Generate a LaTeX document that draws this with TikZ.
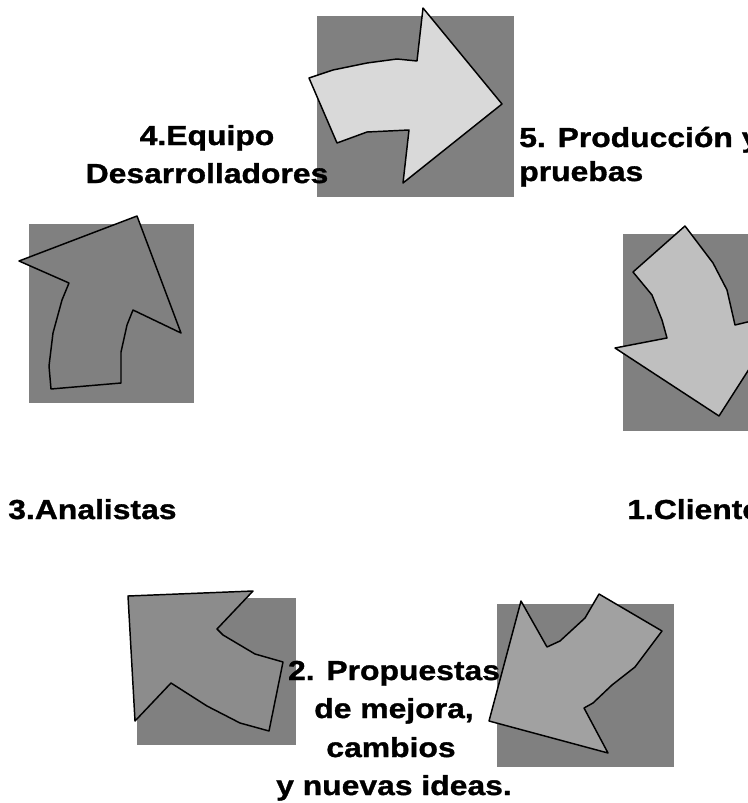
\documentclass[tikz,border=0pt]{standalone}
\usepackage{fontspec}
\setmainfont{Liberation Sans}
\newfontfamily\lblfont{Liberation Sans}[FakeStretch=1.16,FakeBold=1.2]
\usepackage{tikz}
\definecolor{tilegray}{gray}{0.50}
\definecolor{arrowA}{gray}{0.85}
\definecolor{arrowB}{gray}{0.75}
\definecolor{arrowC}{gray}{0.63}
\definecolor{arrowD}{gray}{0.55}
\definecolor{arrowE}{gray}{0.50}
\tikzset{
  tile/.style={fill=tilegray},
  blockarrow/.style={draw=black, line width=1.1pt, line join=round},
  lbl/.style={font=\lblfont\fontsize{20.6}{25}\selectfont\bfseries, inner sep=0pt, anchor=base},
  lblw/.style={lbl, anchor=base west}
}

\begin{document}
\begin{tikzpicture}[x=0.75pt,y=-0.75pt]
   \useasboundingbox (0,0) rectangle (748,803);
   \clip (0,0) rectangle (748,803);
   % grey tiles behind the arrows
   \fill[tile] (317,16) rectangle (514,197);
   \fill[tile] (29,224) rectangle (194,403);
   \fill[tile] (623,234) rectangle (760,431);
   \fill[tile] (137,598) rectangle (296,745);
   \fill[tile] (497,604) rectangle (674,767);
   % curved block arrows
   \filldraw[blockarrow, fill=arrowA] (309,78) -- (333,70) -- (367,63) -- (397,59) -- (417,61)
      -- (423,8) -- (502,104) -- (403,183) -- (409,130) -- (367,132) -- (337,143) -- cycle;
   \filldraw[blockarrow, fill=arrowB] (685,226) -- (713,263) -- (727,290) -- (735,325) -- (785,313)
      -- (719,416) -- (615,348) -- (667,338) -- (662,320) -- (652,295) -- (633,272) -- cycle;
   \filldraw[blockarrow, fill=arrowC] (521,601) -- (547,647) -- (560,641) -- (585,618) -- (599,594)
      -- (662,631) -- (635,667) -- (612,685) -- (593,703) -- (584,708) -- (608,753) -- (489,721) -- cycle;
   \filldraw[blockarrow, fill=arrowD] (128,596) -- (253,591) -- (217,629) -- (223,635) -- (255,654)
      -- (283,662) -- (269,731) -- (240,723) -- (207,706) -- (171,683) -- (135,721) -- cycle;
   \filldraw[blockarrow, fill=arrowE] (51,389) -- (121,383) -- (121,352) -- (127,325) -- (133,310)
      -- (181,333) -- (137,216) -- (19,261) -- (69,283) -- (62,300) -- (53,333) -- (49,366) -- cycle;
   % labels
   \node[lbl] (equipoA) at (207,145) {4.Equipo};
   \node[lbl] (equipoB) at (207,183) {Desarrolladores};
   \node[lblw] (prodA) at (519,147) {5. Producción y};
   \node[lblw] (prodB) at (519,181) {pruebas};
   \node[lblw] (analistas) at (8,519) {3.Analistas};
   \node[lblw] (cliente) at (627,519) {1.Cliente};
   \node[lbl] (propA) at (394,680) {2. Propuestas};
   \node[lbl] (propB) at (394,718) {de mejora,};
   \node[lbl] (propC) at (391,757) {cambios};
   \node[lbl] (propD) at (394,795) {y nuevas ideas.};
\end{tikzpicture}
\end{document}
